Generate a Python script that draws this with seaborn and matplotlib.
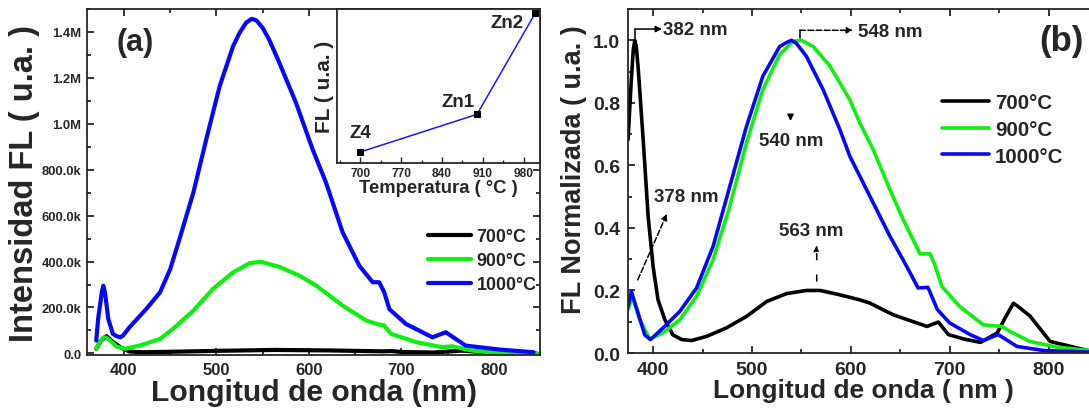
import matplotlib
matplotlib.use("Agg")
import matplotlib.pyplot as plt
import seaborn as sns
from matplotlib.ticker import MultipleLocator

# ---- data, panel (a): intensity vs wavelength ----
nm_a_700 = [370, 375, 381, 388, 396, 406, 420, 450, 500, 563, 620, 680, 690, 700, 735, 765, 790, 820, 845]
fl_a_700 = [20e3, 55e3, 75e3, 50e3, 27e3, 8e3, 5e3, 7e3, 11e3, 15e3, 13e3, 9e3, 10e3, 6e3, 4e3, 12e3, 5e3, 2e3, 1e3]

nm_a_900 = [370, 374, 377.7, 381, 385, 392, 401, 417, 439, 453, 475, 496, 518, 536, 548, 568, 590, 608,
            636.5, 662, 676, 681, 689, 716, 744, 755, 777, 805, 847]
fl_a_900 = [20e3, 50e3, 70e3, 68e3, 56e3, 30e3, 20e3, 34e3, 63e3, 107e3, 186e3, 280e3, 353e3, 393e3,
            399e3, 377e3, 338e3, 295e3, 208e3, 143e3, 125e3, 123e3, 85e3, 49e3, 27e3, 31e3, 12e3, 2e3, 0]

nm_a_1000 = [370, 372, 376, 377.6, 379.4, 383, 388, 392, 396, 399, 406, 424, 439, 450, 460, 475, 489, 503.5,
             518, 525, 532, 538, 543, 550, 557, 568, 586, 604, 618.5, 636.5, 654.5, 669, 676, 681.5, 687,
             705, 733.6, 748, 769.6, 805.5, 843]
fl_a_1000 = [56e3, 150e3, 266e3, 295e3, 266e3, 150e3, 85e3, 75e3, 70e3, 78e3, 114e3, 193e3, 266e3, 367e3,
             498e3, 700e3, 933e3, 1164e3, 1338e3, 1396e3, 1440e3, 1457e3, 1451e3, 1418e3, 1367e3, 1266e3,
             1092e3, 889e3, 744e3, 527e3, 382e3, 310e3, 310e3, 266e3, 193e3, 128e3, 70e3, 92e3, 34e3,
             17e3, 5e3]

a_yticks = [0, 200e3, 400e3, 600e3, 800e3, 1.0e6, 1.2e6, 1.4e6]
a_yticklabels = ["0.0", "200.0k", "400.0k", "600.0k", "800.0k", "1.0M", "1.2M", "1.4M"]

# ---- inset ----
temps = [700, 900, 1000]
fl_temp = [10e3, 400e3, 1450e3]
sample_names = ["Z4", "Zn1", "Zn2"]
inset_xticks = [700, 770, 840, 910, 980]

# ---- data, panel (b): normalised ----
nm_b_700 = [374.7, 378, 380, 381.5, 383, 384.8, 390, 395, 400, 405, 412, 420, 429, 439, 454, 474, 494.5,
            515, 535, 555, 569, 589, 609, 619, 643, 667, 677, 688.5, 698.6, 714, 731, 748, 756, 764.4,
            769.4, 781, 801.5, 841]
fl_b_700 = [0.682, 0.874, 0.97, 1.0, 0.98, 0.917, 0.682, 0.437, 0.277, 0.17, 0.106, 0.058, 0.043, 0.04,
            0.053, 0.08, 0.117, 0.165, 0.19, 0.2, 0.2, 0.186, 0.17, 0.16, 0.122, 0.096, 0.085, 0.099,
            0.059, 0.045, 0.034, 0.064, 0.112, 0.159, 0.148, 0.119, 0.037, 0.007]

nm_b_900 = [374.7, 379, 386.5, 396.7, 410, 427, 444, 460.7, 477.6, 494.5, 511, 528, 541.7, 550, 562, 579,
            599, 609, 622.7, 639.6, 653, 670, 680, 685, 692, 710, 734, 752.7, 761, 781, 808, 841]
fl_b_900 = [0.138, 0.18, 0.106, 0.045, 0.064, 0.106, 0.181, 0.298, 0.469, 0.672, 0.842, 0.954, 0.997, 1.0,
            0.98, 0.917, 0.81, 0.736, 0.65, 0.522, 0.426, 0.317, 0.317, 0.282, 0.213, 0.149, 0.09, 0.085,
            0.069, 0.037, 0.019, 0.008]

nm_b_1000 = [374.7, 378, 384.8, 391.6, 397.4, 410, 427, 444, 460.7, 477.6, 494.5, 511, 528, 535, 540, 545,
             555, 572, 589, 599, 616, 639.6, 656.5, 668, 678, 687.5, 700, 720.6, 734, 749, 768, 795, 841]
fl_b_1000 = [0.149, 0.197, 0.128, 0.058, 0.043, 0.08, 0.133, 0.208, 0.341, 0.533, 0.725, 0.885, 0.98, 0.993,
             1.0, 0.99, 0.949, 0.842, 0.714, 0.629, 0.522, 0.373, 0.277, 0.208, 0.21, 0.139, 0.096, 0.059,
             0.04, 0.059, 0.021, 0.008, 0.003]

labels = ["700°C", "900°C", "1000°C"]
colors = ["#000000", "#11ee11", "#0808f8"]

sns.set_style("ticks")
plt.rcParams["font.family"] = ["Liberation Sans", "DejaVu Sans"]
plt.rcParams["font.weight"] = "bold"
plt.rcParams["axes.labelweight"] = "bold"
plt.rcParams["axes.linewidth"] = 1.3

fig = plt.figure(figsize=(10.89, 4.14), dpi=100)
ax_a = fig.add_axes([0.0799, 0.1401, 0.416, 0.8357])
ax_b = fig.add_axes([0.577, 0.1449, 0.4313, 0.8309])
ax_in = fig.add_axes([0.3095, 0.6039, 0.1864, 0.3719])

line_kw = dict(solid_joinstyle="round", solid_capstyle="round", sort=False)


def style_ticks(ax, size, pad):
    ax.tick_params(which="both", direction="in", top=True, right=True, width=1.3,
                   labelsize=size, pad=pad)
    ax.tick_params(which="major", length=5)
    ax.tick_params(which="minor", length=3)


# ---- panel (a) ----
for x, y, lab, c in zip([nm_a_700, nm_a_900, nm_a_1000], [fl_a_700, fl_a_900, fl_a_1000], labels, colors):
    sns.lineplot(x=x, y=y, ax=ax_a, color=c, lw=3, label=lab, **line_kw)
ax_a.set_xlim(360, 850)
ax_a.set_ylim(-7e3, 1.5e6)
ax_a.set_yticks(a_yticks, a_yticklabels)
ax_a.yaxis.set_minor_locator(MultipleLocator(100e3))
ax_a.xaxis.set_major_locator(MultipleLocator(100))
ax_a.xaxis.set_minor_locator(MultipleLocator(50))
style_ticks(ax_a, 12, 5)
ax_a.tick_params(axis="y", labelsize=9.4, pad=4)
ax_a.set_xlabel("Longitud de onda (nm)", fontsize=21.7, labelpad=1)
ax_a.set_ylabel("Intensidad FL ( u.a. )", fontsize=23.5, labelpad=1)
ax_a.text(0.106, 0.905, "(a)", transform=ax_a.transAxes, fontsize=22, fontweight="bold",
          ha="center", va="center")
ax_a.legend(loc="upper left", bbox_to_anchor=(0.753, 0.367), frameon=False, fontsize=12.9,
            handlelength=2.4, handletextpad=0.3, labelspacing=0.39, borderpad=0, borderaxespad=0)

# ---- inset ----
sns.lineplot(x=temps, y=fl_temp, ax=ax_in, color="#1a1ae6", lw=1.1, marker="s", markersize=5,
             markerfacecolor="black", markeredgecolor="black")
ax_in.set_xlim(660, 1008)
ax_in.set_ylim(-104e3, 1491e3)
ax_in.set_xticks(inset_xticks)
ax_in.xaxis.set_minor_locator(MultipleLocator(35))
ax_in.set_yticks([])
ax_in.tick_params(which="both", direction="in", width=1, labelsize=8.6, pad=3)
ax_in.tick_params(which="major", length=4)
ax_in.tick_params(which="minor", length=2)
ax_in.set_xlabel("Temperatura ( °C )", fontsize=13.3, labelpad=0)
ax_in.set_ylabel("FL ( u.a. )", fontsize=15, labelpad=2)
for t, v, name, dx, dy in zip(temps, fl_temp, sample_names, [0, -32, -49], [200e3, 137e3, -100e3]):
    ax_in.text(t + dx, v + dy, name, fontsize=13.5, fontweight="bold", ha="center", va="center")

# ---- panel (b) ----
for x, y, lab, c in zip([nm_b_700, nm_b_900, nm_b_1000], [fl_b_700, fl_b_900, fl_b_1000], labels, colors):
    sns.lineplot(x=x, y=y, ax=ax_b, color=c, lw=2.6, label=lab, **line_kw)
ax_b.set_xlim(375, 850)
ax_b.set_ylim(0, 1.1)
ax_b.xaxis.set_major_locator(MultipleLocator(100))
ax_b.xaxis.set_minor_locator(MultipleLocator(50))
ax_b.yaxis.set_major_locator(MultipleLocator(0.2))
ax_b.yaxis.set_minor_locator(MultipleLocator(0.1))
style_ticks(ax_b, 14, 6)
ax_b.set_xlabel("Longitud de onda ( nm )", fontsize=19, labelpad=0)
ax_b.set_ylabel("FL Normalizada ( u.a. )", fontsize=19.5)
ax_b.yaxis.set_label_coords(-0.088, 0.535)
ax_b.text(0.923, 0.908, "(b)", transform=ax_b.transAxes, fontsize=25, fontweight="bold",
          ha="center", va="center")
ax_b.legend(loc="upper left", bbox_to_anchor=(0.667, 0.756), frameon=False, fontsize=14.8,
            handlelength=2.3, handletextpad=0.3, labelspacing=0.38, borderpad=0, borderaxespad=0)

# annotations
arw = dict(arrowstyle="-|>", color="black", lw=1.1, mutation_scale=9, shrinkA=0, shrinkB=0)
ax_b.plot([381.5, 381.5], [1.0, 1.036], color="black", lw=1.1)
ax_b.annotate("", xy=(409, 1.036), xytext=(381.5, 1.036), arrowprops=arw)
ax_b.text(410, 1.036, "382 nm", fontsize=13.5, fontweight="bold", va="center", ha="left")

ax_b.plot([548.5, 548.5], [1.007, 1.032], color="black", lw=1.1)
ax_b.annotate("", xy=(602, 1.032), xytext=(548.5, 1.032), arrowprops=dict(arw, ls="--"))
ax_b.text(607, 1.028, "548 nm", fontsize=13.5, fontweight="bold", va="center", ha="left")

ax_b.annotate("", xy=(539, 0.742), xytext=(539, 0.76), arrowprops=arw)
ax_b.text(540, 0.68, "540 nm", fontsize=13.5, fontweight="bold", va="center", ha="center")

ax_b.annotate("", xy=(565.5, 0.345), xytext=(565.5, 0.23), arrowprops=dict(arw, ls=(0, (4, 10))))
ax_b.text(560, 0.392, "563 nm", fontsize=13.5, fontweight="bold", va="center", ha="center")

ax_b.annotate("", xy=(414, 0.445), xytext=(384.5, 0.234), arrowprops=dict(arw, ls="--"))
ax_b.text(434, 0.499, "378 nm", fontsize=13.5, fontweight="bold", va="center", ha="center")

fig.savefig("out.png", dpi=100)
